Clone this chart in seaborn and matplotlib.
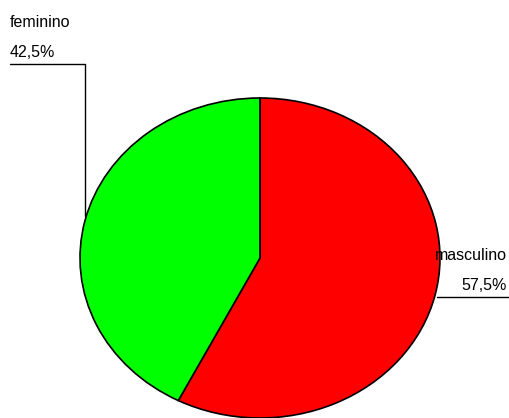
import matplotlib
matplotlib.use("Agg")
import matplotlib.pyplot as plt
import seaborn as sns

categories = ["masculino", "feminino"]
values = [57.5, 42.5]
pct_labels = ["57,5%", "42,5%"]
colors = ["#FF0000", "#00FF00"]

sns.set_theme(style="white")
plt.rcParams['font.family'] = ['Liberation Sans', 'DejaVu Sans']

W, H = 510, 418
fig = plt.figure(figsize=(W / 100, H / 100), dpi=100)
fig.patch.set_facecolor("white")

# overlay axes in pixel coordinates for labels / leader lines
ax = fig.add_axes([0, 0, 1, 1])
ax.set_xlim(0, W)
ax.set_ylim(H, 0)
ax.axis("off")

# pie axes (elliptical pie)
pax = fig.add_axes([80 / W, 0, 360 / W, 320 / H])
pax.pie(values, colors=colors, startangle=90, counterclock=False,
        wedgeprops=dict(edgecolor="black", linewidth=1.2))
pax.set_aspect("auto")
pax.set_xlim(-1.0, 1.0)
pax.set_ylim(-1.0, 1.0)
pax.axis("off")
ax.set_zorder(2)
ax.patch.set_alpha(0)

fs = 11.5
# feminino label
ax.text(10, 27, categories[1], fontsize=fs, ha="left", va="baseline", color="black")
ax.text(10, 57, pct_labels[1], fontsize=fs, ha="left", va="baseline", color="black")
ax.plot([10, 85, 85], [64, 64, 216], color="black", lw=1.0)

# masculino label
ax.text(507, 260, categories[0], fontsize=fs, ha="right", va="baseline", color="black")
ax.text(507, 290, pct_labels[0], fontsize=fs, ha="right", va="baseline", color="black")
ax.plot([437, 510], [297, 297], color="black", lw=1.0)

fig.savefig("out.png", dpi=100)
